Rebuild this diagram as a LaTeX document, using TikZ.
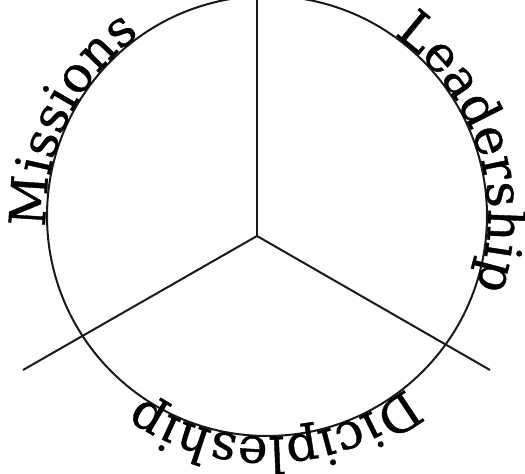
\documentclass[tikz,border=0pt]{standalone}
\usepackage{fontspec}
\setmainfont{DejaVu Serif}
\newfontfamily\lblfam{DejaVu Serif}[FakeBold=0.8]
\usetikzlibrary{decorations.text}
\newcommand\lblfont{\lblfam\fontsize{50}{60}\selectfont}
\tikzset{
  arctext/.style={decorate, decoration={text along path, text align=center, raise=1pt, text={#1}}},
  rim/.style={draw=black!90, line width=2pt},
  spoke/.style={draw=black!90, line width=2pt}
}
\begin{document}
\begin{tikzpicture}[x=1pt,y=1pt]
\useasboundingbox (0,0) rectangle (525,474);
\coordinate (O) at (267,258);
\coordinate (J) at (257,238);
\coordinate (T) at (257,474);
\coordinate (L) at (23,104);
\coordinate (R) at (490,104);
\draw[rim] (O) circle[radius=220pt];
\draw[spoke] (J) -- (T);
\draw[spoke] (J) -- (L);
\draw[spoke] (J) -- (R);
\path[arctext={|\lblfont|Missions}] ([shift={(199:220pt)}]O) arc[start angle=199, end angle=109, radius=220pt];
\path[arctext={|\lblfont|Leadership}] ([shift={(68:220pt)}]O) arc[start angle=68, end angle=-32, radius=220pt];
\path[arctext={|\lblfont|Dicipleship}] ([shift={(-30:220pt)}]O) arc[start angle=-30, end angle=-146, radius=220pt];
\end{tikzpicture}
\end{document}
